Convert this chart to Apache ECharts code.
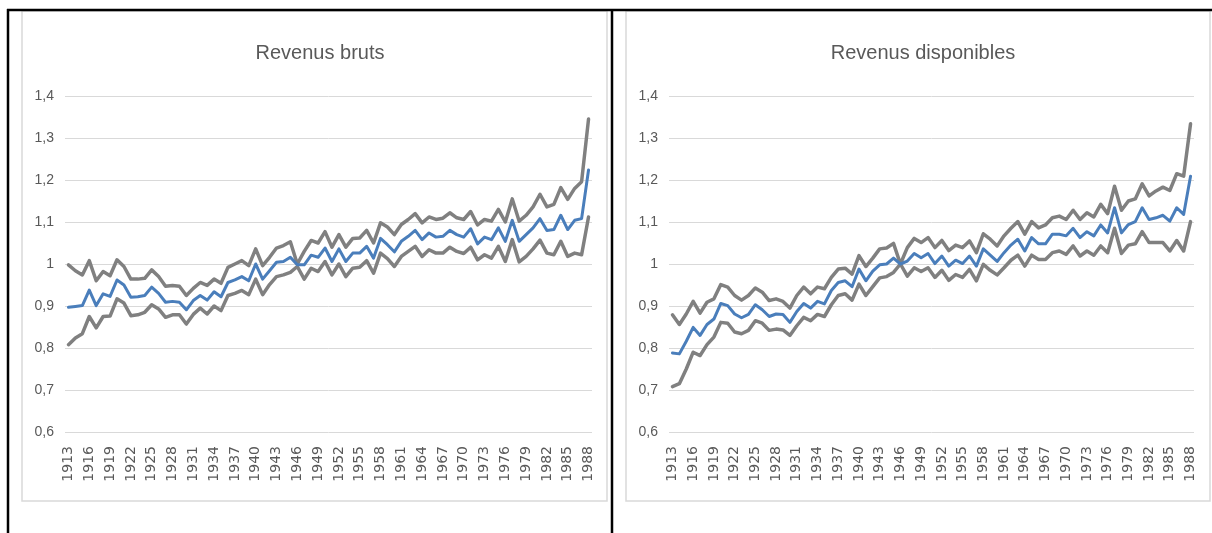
<!DOCTYPE html>
<html>
<head>
<meta charset="utf-8">
<title>Revenus bruts / disponibles</title>
<script src="https://cdn.jsdelivr.net/npm/echarts@6/dist/echarts.min.js"></script>
<style>
  html, body { margin: 0; padding: 0; background: #fff; }
  #main { width: 1212px; height: 533px; }
</style>
</head>
<body>
<div id="main"></div>
<script>
// années 1913 -> 1988
const years = [];
for (let y = 1913; y <= 1988; y++) years.push(String(y));

const yTicks = [0.6, 0.7, 0.8, 0.9, 1.0, 1.1, 1.2, 1.3, 1.4];

// Revenus bruts : borne haute, moyenne, borne basse
const brutHaut = [
  0.998, 0.984, 0.974, 1.008, 0.96, 0.982, 0.972, 1.01, 0.994, 0.964,
  0.964, 0.966, 0.986, 0.97, 0.947, 0.949, 0.947, 0.925, 0.942, 0.956,
  0.949, 0.964, 0.954, 0.992, 1.0, 1.008, 0.996, 1.036, 0.996, 1.016,
  1.038, 1.044, 1.053, 1.0, 1.03, 1.056, 1.05, 1.077, 1.04, 1.07,
  1.04, 1.061, 1.062, 1.08, 1.05, 1.098, 1.088, 1.07, 1.094, 1.106,
  1.12, 1.098, 1.112, 1.106, 1.109, 1.122, 1.11, 1.106, 1.125, 1.093,
  1.106, 1.102, 1.13, 1.1, 1.155, 1.102, 1.116, 1.136, 1.166, 1.136,
  1.142, 1.182, 1.154, 1.18, 1.196, 1.345
];
const brutMoy = [
  0.897, 0.899, 0.901, 0.938, 0.901, 0.929, 0.923, 0.962, 0.95, 0.921,
  0.922, 0.925, 0.945, 0.93, 0.909, 0.911, 0.909, 0.891, 0.913, 0.925,
  0.914, 0.934, 0.922, 0.956, 0.962, 0.97, 0.96, 1.0, 0.964, 0.984,
  1.004, 1.006, 1.016, 0.998, 0.998, 1.021, 1.016, 1.038, 1.006, 1.036,
  1.006, 1.026, 1.026, 1.042, 1.014, 1.061, 1.046, 1.029, 1.054, 1.066,
  1.08, 1.058, 1.074, 1.064, 1.066, 1.08, 1.07, 1.064, 1.084, 1.048,
  1.064, 1.058, 1.086, 1.054, 1.104, 1.054, 1.07, 1.086, 1.108, 1.08,
  1.082, 1.116, 1.082, 1.104, 1.108, 1.224
];
const brutBas = [
  0.808, 0.824, 0.834, 0.875, 0.848, 0.875, 0.876, 0.917, 0.907, 0.877,
  0.879, 0.885, 0.903, 0.893, 0.873, 0.879, 0.879, 0.857, 0.88, 0.895,
  0.881, 0.9, 0.889, 0.925, 0.93, 0.937, 0.927, 0.964, 0.927, 0.951,
  0.97, 0.974, 0.98, 0.994, 0.964, 0.99, 0.982, 1.006, 0.974, 1.0,
  0.97, 0.99, 0.992, 1.008, 0.978, 1.026, 1.013, 0.994, 1.018, 1.03,
  1.042, 1.018, 1.034, 1.026, 1.026, 1.04, 1.03, 1.025, 1.04, 1.01,
  1.022, 1.014, 1.042, 1.006, 1.058, 1.005, 1.018, 1.036, 1.057, 1.026,
  1.022, 1.054, 1.018, 1.026, 1.022, 1.112
];

// Revenus disponibles
const dispHaut = [
  0.879, 0.856, 0.881, 0.911, 0.883, 0.909, 0.917, 0.951, 0.945, 0.925,
  0.914, 0.925, 0.943, 0.933, 0.913, 0.917, 0.911, 0.895, 0.925, 0.945,
  0.929, 0.945, 0.941, 0.968, 0.988, 0.99, 0.976, 1.02, 0.994, 1.014,
  1.036, 1.038, 1.049, 1.0, 1.039, 1.061, 1.051, 1.063, 1.039, 1.056,
  1.032, 1.045, 1.039, 1.055, 1.027, 1.072, 1.059, 1.043, 1.067, 1.085,
  1.101, 1.071, 1.101, 1.086, 1.093, 1.11, 1.114, 1.106, 1.128, 1.106,
  1.122, 1.112, 1.142, 1.12, 1.185, 1.128, 1.15, 1.155, 1.191, 1.162,
  1.174, 1.183, 1.175, 1.215, 1.209, 1.334
];
const dispMoy = [
  0.788, 0.786, 0.816, 0.849, 0.83, 0.856, 0.869, 0.906, 0.901, 0.881,
  0.872, 0.88, 0.903, 0.891, 0.875, 0.881, 0.88, 0.861, 0.887, 0.906,
  0.895, 0.911, 0.905, 0.937, 0.956, 0.96, 0.946, 0.988, 0.96, 0.983,
  0.998, 1.0, 1.014, 1.0, 1.007, 1.025, 1.015, 1.025, 1.001, 1.019,
  0.995, 1.009, 1.001, 1.019, 0.995, 1.036, 1.021, 1.006, 1.027, 1.045,
  1.059, 1.031, 1.063, 1.048, 1.048, 1.071, 1.071, 1.067, 1.085, 1.063,
  1.077, 1.067, 1.093, 1.074, 1.134, 1.074, 1.094, 1.101, 1.134, 1.106,
  1.11, 1.116, 1.102, 1.134, 1.118, 1.209
];
const dispBas = [
  0.708, 0.715, 0.75, 0.79, 0.782, 0.808, 0.826, 0.861, 0.859, 0.838,
  0.834, 0.842, 0.865, 0.859, 0.842, 0.845, 0.843, 0.83, 0.853, 0.873,
  0.865, 0.88, 0.875, 0.903, 0.925, 0.929, 0.914, 0.952, 0.925, 0.946,
  0.967, 0.97, 0.98, 1.0, 0.971, 0.991, 0.982, 0.991, 0.968, 0.985,
  0.961, 0.975, 0.968, 0.987, 0.96, 0.999, 0.985, 0.974, 0.991, 1.009,
  1.021, 0.995, 1.021, 1.011, 1.011, 1.027, 1.031, 1.023, 1.043, 1.019,
  1.031, 1.021, 1.043, 1.027, 1.085, 1.025, 1.045, 1.048, 1.077, 1.051,
  1.051, 1.051, 1.031, 1.056, 1.031, 1.101
];

const GRAY = '#808080';
const BLUE = '#4a7ebb';
const TXT = '#595959';
const narrow = "'Liberation Sans Narrow', 'Liberation Sans', sans-serif";

function xAxis(idx) {
  return {
    gridIndex: idx,
    type: 'category',
    data: years,
    boundaryGap: true,
    axisLine: { show: false },
    axisTick: { show: false },
    axisLabel: {
      interval: 2,
      rotate: 90,
      margin: 14,
      color: TXT,
      fontSize: 14,
      fontFamily: 'DejaVu Sans'
    }
  };
}

function yAxis(idx) {
  return {
    gridIndex: idx,
    type: 'value',
    min: yTicks[0],
    max: yTicks[yTicks.length - 1],
    interval: 0.1,
    axisLine: { show: false },
    axisTick: { show: false },
    splitLine: { lineStyle: { color: '#d9d9d9', width: 1 } },
    axisLabel: {
      margin: 11,
      color: TXT,
      fontSize: 14,
      fontFamily: narrow,
      formatter: v => String(+v.toFixed(1)).replace('.', ',')
    }
  };
}

function line(name, idx, data, color, width) {
  return {
    name: name,
    type: 'line',
    xAxisIndex: idx,
    yAxisIndex: idx,
    data: data,
    showSymbol: false,
    lineStyle: { color: color, width: width, join: 'round', cap: 'round' }
  };
}

const chart = echarts.init(document.getElementById('main'));
chart.setOption({
  animation: false,
  title: [
    { text: 'Revenus bruts', left: 315, top: 38, textAlign: 'center',
      textStyle: { color: TXT, fontSize: 20, fontWeight: 'normal', fontFamily: narrow } },
    { text: 'Revenus disponibles', left: 918, top: 38, textAlign: 'center',
      textStyle: { color: TXT, fontSize: 20, fontWeight: 'normal', fontFamily: narrow } }
  ],
  grid: [
    { left: 65, top: 96, width: 527, height: 336 },
    { left: 669, top: 96, width: 525, height: 336 }
  ],
  xAxis: [xAxis(0), xAxis(1)],
  yAxis: [yAxis(0), yAxis(1)],
  series: [
    line('Bruts haut', 0, brutHaut, GRAY, 3.5),
    line('Bruts bas', 0, brutBas, GRAY, 3.5),
    line('Bruts', 0, brutMoy, BLUE, 3),
    line('Disponibles haut', 1, dispHaut, GRAY, 3.5),
    line('Disponibles bas', 1, dispBas, GRAY, 3.5),
    line('Disponibles', 1, dispMoy, BLUE, 3)
  ],
  // cadres des graphiques et traits noirs du tableau
  graphic: [
    { type: 'rect', shape: { x: 22, y: 11, width: 585, height: 490 },
      style: { fill: 'none', stroke: '#d9d9d9', lineWidth: 1.5 }, z: -1 },
    { type: 'rect', shape: { x: 626, y: 11, width: 584, height: 490 },
      style: { fill: 'none', stroke: '#d9d9d9', lineWidth: 1.5 }, z: -1 },
    { type: 'line', shape: { x1: 7, y1: 10, x2: 1212, y2: 10 },
      style: { stroke: '#000', lineWidth: 2.5 } },
    { type: 'line', shape: { x1: 8, y1: 9, x2: 8, y2: 533 },
      style: { stroke: '#000', lineWidth: 2.5 } },
    { type: 'line', shape: { x1: 612, y1: 9, x2: 612, y2: 533 },
      style: { stroke: '#000', lineWidth: 2.5 } }
  ]
});
</script>
</body>
</html>
